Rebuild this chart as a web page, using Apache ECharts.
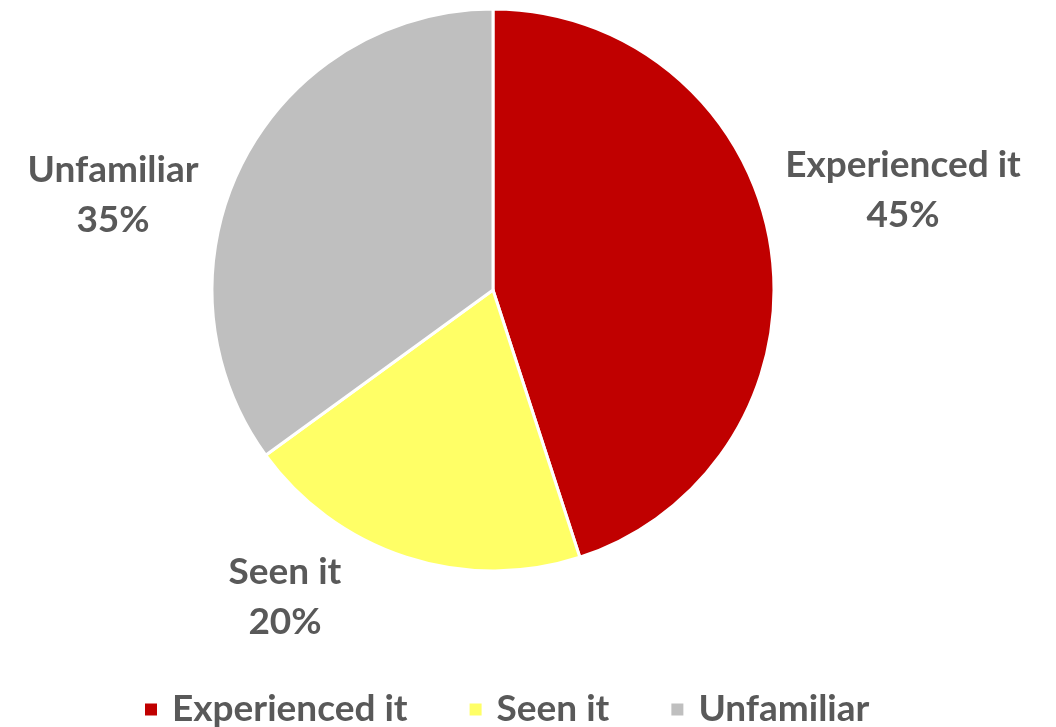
<!DOCTYPE html>
<html>
<head>
<meta charset="utf-8">
<script src="https://cdn.jsdelivr.net/npm/echarts@6/dist/echarts.min.js"></script>
<style>html,body{margin:0;padding:0;background:#fff;}#c{width:1056px;height:727px;}</style>
</head>
<body>
<div id="c"></div>
<script>
const categories = ['Experienced it', 'Seen it', 'Unfamiliar'];
const values = [45, 20, 35];
const colors = ['#C00000', '#FFFF66', '#BFBFBF'];
const labelPos = [[903, 190], [285, 597], [113, 195]];

const chart = echarts.init(document.getElementById('c'), null, {renderer: 'canvas'});
chart.setOption({
  animation: false,
  color: colors,
  legend: {
    top: 686,
    left: 138,
    icon: 'rect',
    itemWidth: 14,
    itemHeight: 14,
    itemGap: 60,
    textStyle: {fontFamily: 'Lato', fontWeight: 'bold', fontSize: 37, color: '#595959', padding: [0, 0, 0, 9]},
    data: categories
  },
  series: [{
    type: 'pie',
    center: [493, 290],
    radius: [0, 281],
    startAngle: 90,
    clockwise: true,
    itemStyle: {borderColor: '#fff', borderWidth: 3},
    label: {
      show: true,
      position: 'outside',
      overflow: 'none',
      width: 400,
      formatter: p => p.name + '\n' + p.value + '%',
      fontFamily: 'Lato', fontWeight: 'bold', fontSize: 37, color: '#595959',
      lineHeight: 50, align: 'center'
    },
    labelLine: {show: false},
    labelLayout: function (params) {
      const p = labelPos[params.dataIndex];
      return {x: p[0], y: p[1], align: 'center', verticalAlign: 'middle'};
    },
    data: categories.map((n, i) => ({name: n, value: values[i]}))
  }]
});
</script>
</body>
</html>
